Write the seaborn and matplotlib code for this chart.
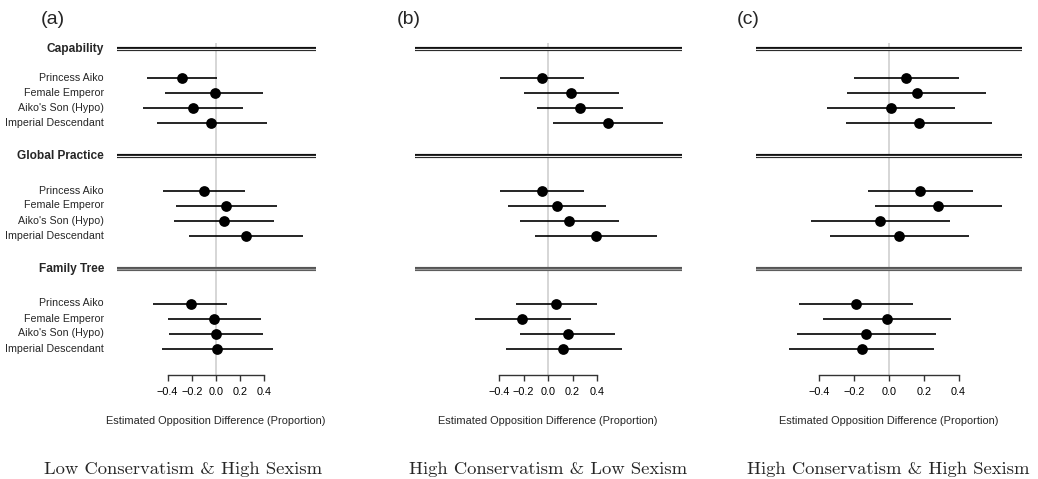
import numpy as np
import pandas as pd
import matplotlib
matplotlib.use("Agg")
import matplotlib.pyplot as plt
import matplotlib.transforms as mtransforms
import seaborn as sns

# ---------------- data ----------------
groups = ["Capability", "Global Practice", "Family Tree"]
items = ["Princess Aiko", "Female Emperor", "Aiko's Son (Hypo)", "Imperial Descendant"]
panel_tags = ["(a)", "(b)", "(c)"]
panel_titles = ["Low Conservatism & High Sexism",
                "High Conservatism & Low Sexism",
                "High Conservatism & High Sexism"]
x_label = "Estimated Opposition Difference (Proportion)"
x_ticks = [-0.4, -0.2, 0.0, 0.2, 0.4]

# order: Capability (4), Global Practice (4), Family Tree (4)
a_est = [-0.28, -0.01, -0.19, -0.04,  -0.10, 0.085, 0.066, 0.25,  -0.21, -0.02, 0.00, 0.01]
a_lo  = [-0.57, -0.42, -0.60, -0.49,  -0.44, -0.33, -0.35, -0.22, -0.52, -0.40, -0.39, -0.45]
a_hi  = [0.01, 0.39, 0.22, 0.42,      0.24, 0.50, 0.48, 0.72,     0.09, 0.37, 0.39, 0.47]

b_est = [-0.05, 0.185, 0.26, 0.49,    -0.05, 0.07, 0.17, 0.39,    0.065, -0.21, 0.16, 0.125]
b_lo  = [-0.39, -0.20, -0.09, 0.04,   -0.39, -0.33, -0.23, -0.11, -0.26, -0.60, -0.23, -0.34]
b_hi  = [0.29, 0.58, 0.61, 0.94,      0.29, 0.47, 0.58, 0.89,     0.40, 0.185, 0.55, 0.60]

c_est = [0.10, 0.16, 0.013, 0.17,     0.18, 0.28, -0.05, 0.06,    -0.19, -0.013, -0.13, -0.157]
c_lo  = [-0.20, -0.24, -0.355, -0.25, -0.12, -0.08, -0.45, -0.34, -0.52, -0.38, -0.53, -0.575]
c_hi  = [0.40, 0.56, 0.38, 0.59,      0.48, 0.65, 0.35, 0.46,     0.14, 0.355, 0.27, 0.26]

panels = [(a_est, a_lo, a_hi), (b_est, b_lo, b_hi), (c_est, c_lo, c_hi)]

# ---------------- style ----------------
sns.set_theme(style="white")
plt.rcParams["font.family"] = ["Liberation Sans", "DejaVu Sans"]
plt.rcParams["axes.unicode_minus"] = True

W, H = 1038, 479
fig = plt.figure(figsize=(W / 100, H / 100), dpi=100)

# layout (pixels)
header_y = [49, 156, 269]
first_item_y = [77.5, 190.5, 303.5]
row_step = 15
axis_y = 374.5
zero_top = 43
# axes pixel extents: left, right, zero-position, px per unit
panel_geom = [(117, 316, 216, 121.0), (415, 682, 548, 122.5), (756, 1022, 889, 174.0)]
tag_x = [41, 397, 737]
title_cx = [182.6, 548, 888]

item_y = []
for g in range(len(groups)):
    for i in range(len(items)):
        item_y.append(first_item_y[g] + i * row_step)

for p, (est, lo, hi) in enumerate(panels):
    left, right, zx, scale = panel_geom[p]
    ax = fig.add_axes([left / W, 0, (right - left) / W, 1])
    ax.set_xlim((left - zx) / scale, (right - zx) / scale)
    ax.set_ylim(H, 0)
    ax.patch.set_alpha(0)

    df = pd.DataFrame({"est": est, "lo": lo, "hi": hi, "y": item_y})

    # zero reference line
    ax.vlines(0, zero_top, axis_y, color="#cccccc", lw=1.1, zorder=1)

    # group header double lines
    for g, hy in enumerate(header_y):
        if g < 2:
            ax.axhline(hy, color="#111111", lw=3.0, zorder=2)
            ax.axhline(hy, color="#eeeeee", lw=0.9, zorder=3)
        else:
            ax.axhline(hy, color="#555555", lw=3.0, zorder=2)
            ax.axhline(hy, color="#9a9a9a", lw=0.9, zorder=3)

    # confidence intervals
    ax.hlines(df["y"], df["lo"], df["hi"], color="black", lw=1.2, zorder=4)
    # point estimates
    sns.scatterplot(data=df, x="est", y="y", ax=ax, color="black", s=60,
                    edgecolor="black", linewidth=0, zorder=5, legend=False)
    ax.set_ylim(H, 0)

    # axis
    for s in ["top", "right", "left"]:
        ax.spines[s].set_visible(False)
    ax.spines["bottom"].set_position(("data", axis_y))
    ax.spines["bottom"].set_bounds(x_ticks[0], x_ticks[-1])
    ax.spines["bottom"].set_color("#333333")
    ax.spines["bottom"].set_linewidth(1.0)
    ax.set_xticks(x_ticks)
    ax.tick_params(axis="x", direction="out", length=4, width=1.0, color="#333333",
                   labelsize=7.8, pad=5, labelcolor="black", bottom=True)
    ax.set_yticks([])
    ax.set_xlabel("")
    ax.set_ylabel("")

    ax.text(0, 421.5, x_label, ha="center", va="center", fontsize=7.9, transform=ax.transData)

    # row labels (panel a only)
    if p == 0:
        tr = mtransforms.blended_transform_factory(fig.transFigure, ax.transData)
        for g, hy in enumerate(header_y):
            ax.text(104 / W, hy, groups[g], ha="right", va="center", fontsize=8.6,
                    fontweight="bold", transform=tr, clip_on=False)
        for k, yy in enumerate(item_y):
            ax.text(104 / W, yy, items[k % len(items)], ha="right", va="center",
                    fontsize=7.7, transform=tr, clip_on=False)

    fig.text(tag_x[p] / W, 1 - 20 / H, panel_tags[p], ha="left", va="center", fontsize=14)
    fig.text(title_cx[p] / W, 1 - 469 / H, panel_titles[p], ha="center", va="center",
             fontsize=13.4, family="cmr10")

fig.savefig("out.png", dpi=100)
